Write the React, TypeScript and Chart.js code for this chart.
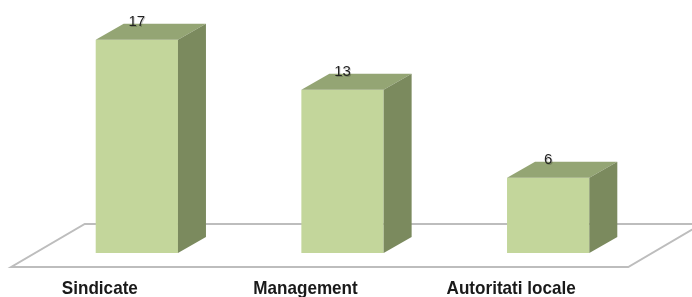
import React, { useEffect, useRef } from "react";
import { Chart, registerables } from "chart.js";

Chart.register(...registerables);

const categories = ["Sindicate", "Management", "Autoritati locale"];
const values = [17, 13, 6];

const FRONT = "#c3d69b";
const TOP = "#94a574";
const SIDE = "#7b8a5e";
const DX = 28;
const DY = 16;

const threeD = {
  id: "threeD",
  beforeDatasetsDraw(chart: any) {
    const { ctx, chartArea } = chart;
    const base = chartArea.bottom;
    const l = chartArea.left;
    const r = chartArea.right;
    const k = DX / DY;
    const fy = base + 14;
    const by = base - 29;
    const fxo = -13 * k;
    const bxo = 29 * k;
    ctx.save();
    ctx.strokeStyle = "#bdbdbd";
    ctx.lineWidth = 2;
    ctx.beginPath();
    ctx.moveTo(l + fxo, fy);
    ctx.lineTo(r + fxo, fy);
    ctx.lineTo(r + bxo, by);
    ctx.lineTo(l + bxo, by);
    ctx.closePath();
    ctx.stroke();
    ctx.restore();
  },
  afterDatasetsDraw(chart: any) {
    const { ctx } = chart;
    const meta = chart.getDatasetMeta(0);
    ctx.save();
    meta.data.forEach((bar: any, i: number) => {
      const x0 = bar.x - bar.width / 2;
      const x1 = bar.x + bar.width / 2;
      const yt = bar.y;
      const yb = bar.base;
      ctx.fillStyle = TOP;
      ctx.beginPath();
      ctx.moveTo(x0, yt);
      ctx.lineTo(x0 + DX, yt - DY);
      ctx.lineTo(x1 + DX, yt - DY);
      ctx.lineTo(x1, yt);
      ctx.closePath();
      ctx.fill();
      ctx.fillStyle = SIDE;
      ctx.beginPath();
      ctx.moveTo(x1, yt);
      ctx.lineTo(x1 + DX, yt - DY);
      ctx.lineTo(x1 + DX, yb - DY);
      ctx.lineTo(x1, yb);
      ctx.closePath();
      ctx.fill();
      ctx.font = "15px 'Liberation Sans', Arial, sans-serif";
      ctx.textAlign = "center";
      ctx.textBaseline = "alphabetic";
      ctx.fillStyle = "rgba(0,0,0,0.2)";
      ctx.fillText(String(values[i]), bar.x + 1, yt - DY + 3);
      ctx.fillStyle = "#222222";
      ctx.fillText(String(values[i]), bar.x, yt - DY + 2);
    });
    const xs = chart.scales.x;
    ctx.font = "bold 19px 'Liberation Sans', Arial, sans-serif";
    ctx.fillStyle = "#1a1a1a";
    ctx.textAlign = "center";
    categories.forEach((c, i) => {
      const cx = xs.getPixelForValue(i) - 37;
      ctx.save();
      ctx.translate(cx, 294);
      ctx.scale(0.9, 1);
      ctx.fillText(c, 0, 0);
      ctx.restore();
    });
    ctx.restore();
  },
};

export default function App() {
  const ref = useRef<HTMLCanvasElement>(null);
  useEffect(() => {
    if (!ref.current) return;
    const chart = new Chart(ref.current, {
      type: "bar",
      data: {
        labels: categories,
        datasets: [
          {
            data: values,
            backgroundColor: FRONT,
            borderWidth: 0,
            barPercentage: 0.4,
            categoryPercentage: 1,
          },
        ],
      },
      options: {
        responsive: false,
        animation: false,
        layout: { padding: { left: 34, right: 41, top: 2, bottom: 44 } },
        plugins: { legend: { display: false }, tooltip: { enabled: false } },
        scales: {
          x: { display: false },
          y: { display: false, min: 0, max: 20 },
        },
      },
      plugins: [threeD],
    });
    return () => chart.destroy();
  }, []);
  return (
    <div style={{ position: "absolute", left: 0, top: 0, width: 692, height: 297, background: "#fff" }}>
      <canvas ref={ref} width={692} height={297} />
    </div>
  );
}
